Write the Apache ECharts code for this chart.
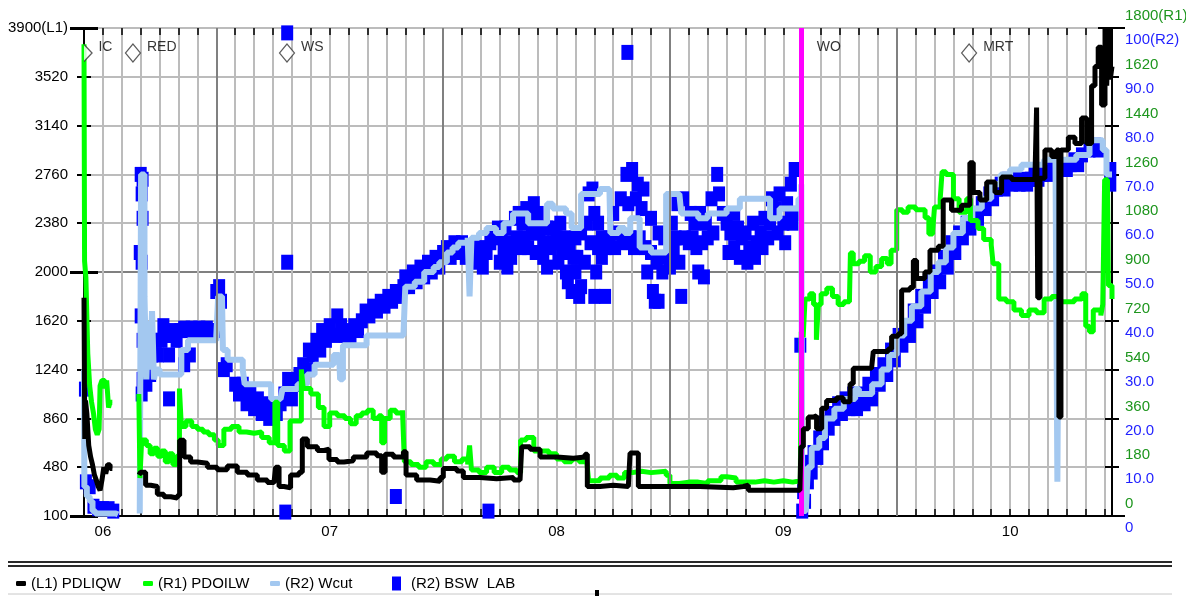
<!DOCTYPE html>
<html>
<head>
<meta charset="utf-8">
<title>PDLIQW / PDOILW / Wcut</title>
<script src="https://cdn.jsdelivr.net/npm/echarts@6/dist/echarts.min.js"></script>
<style>
html, body { margin: 0; padding: 0; background: #fff; }
#main { width: 1186px; height: 596px; }
</style>
</head>
<body>
<div id="main"></div>
<script>
// x = months counted from Jan 2006 (5 = Jun 2006)
var xMin = 5, xMax = 59.39;
var yearLabels = ['06', '07', '08', '09', '10'];
var yearLabelMonths = [6, 18, 30, 42, 54];
var yearStartMonths = [12, 24, 36, 48];
var woMonth = 42.97;

var eventNames = ['IC', 'RED', 'WS', 'WO', 'MRT'];
var eventMonths = [5.0, 7.59, 15.74, 42.97, 51.83];

// (L1) PDLIQW
var pdliqw = [
    [5.0, 1800], [5.04, 700], [5.08, 1000], [5.15, 900], [5.25, 650], [5.35, 560], [5.45, 500],
    [5.55, 420], [5.65, 380], [5.75, 330], [5.85, 300], [5.95, 380], [6.05, 480], [6.15, 430],
    [6.25, 500], [6.38, 470], [6.5, null],
    [7.91, 420], [7.99, 440], [8.26, 340], [8.53, 330], [8.88, 270], [9.23, 250], [9.59, 240],
    [9.94, 260], [10.06, 690], [10.29, 560], [10.64, 520], [11.0, 510], [11.53, 480], [12.05, 460],
    [12.58, 490], [13.11, 440], [13.64, 420], [14.17, 380], [14.7, 360], [15.05, 350], [15.14, 480],
    [15.32, 330], [15.58, 320], [15.93, 420], [16.38, 440], [16.55, 700], [16.82, 640], [17.35, 610],
    [17.7, 620], [17.96, 540], [18.4, 520], [18.76, 530], [19.25, 560], [19.96, 590], [20.49, 570],
    [20.75, 440], [20.93, 580], [21.37, 560], [21.9, 600], [22.04, 420], [22.6, 380], [23.31, 370],
    [23.84, 400], [24.01, 470], [24.72, 450], [25.07, 400], [25.95, 390], [26.83, 400], [27.72, 380],
    [28.07, 370], [28.16, 640], [28.6, 620], [29.13, 560], [30.01, 550], [30.89, 560], [31.51, 580],
    [31.63, 330], [32.3, 340], [33.0, 330], [33.8, 340], [33.89, 590], [34.33, 330], [35.83, 330],
    [37.59, 320], [39.35, 330], [39.88, 340], [40.15, 300], [41.47, 300], [42.88, 300], [42.93, 640],
    [43.06, 780], [43.32, 870], [43.59, 880], [43.76, 780], [44.03, 940], [44.29, 1000], [44.82, 1020],
    [45.17, 990], [45.53, 1130], [45.7, 1250], [46.67, 1250], [46.76, 1380], [47.55, 1400],
    [47.73, 1500], [48.08, 1520], [48.26, 1860], [48.7, 1880], [48.88, 2090], [49.05, 1950],
    [49.49, 2000], [49.76, 2170], [50.2, 2200], [50.46, 2560], [50.9, 2480], [51.43, 2520],
    [51.87, 2850], [52.05, 2620], [52.4, 2560], [52.76, 2700], [53.2, 2620], [53.55, 2740],
    [54.08, 2720], [54.61, 2720], [55.31, 2730], [55.4, 3280], [55.46, 1800], [55.58, 2730],
    [55.84, 2950], [56.2, 2900], [56.46, 2950], [56.58, 870], [56.69, 2950], [57.08, 3050],
    [57.43, 3000], [57.78, 3200], [58.05, 3000], [58.31, 3450], [58.49, 3600], [58.66, 3750],
    [58.84, 3300], [59.02, 3900], [59.11, 3450], [59.2, 3900], [59.3, 3500], [59.39, 3600]
];

// (R1) PDOILW
var pdoilw = [
    [5.0, 1740], [5.03, 940], [5.1, 880], [5.2, 600], [5.3, 480], [5.4, 420], [5.5, 380], [5.6, 320],
    [5.7, 300], [5.8, 320], [5.85, 480], [5.95, 500], [6.1, 470], [6.2, 500], [6.3, 400], [6.38, 420],
    [6.5, null],
    [7.9, 450], [7.96, 140], [8.05, 280], [8.3, 260], [8.5, 230], [8.7, 250], [8.9, 220], [9.1, 240],
    [9.3, 200], [9.5, 230], [9.7, 190], [9.9, 220], [10.05, 470], [10.15, 330], [10.4, 350],
    [10.7, 330], [11.0, 320], [11.3, 310], [11.6, 300], [11.9, 280], [12.1, 260], [12.4, 320],
    [12.8, 330], [13.2, 310], [13.6, 305], [14.0, 310], [14.4, 290], [14.8, 270], [15.1, 420],
    [15.25, 260], [15.6, 240], [15.9, 350], [16.3, 350], [16.5, 540], [16.6, 470], [17.0, 450],
    [17.4, 400], [17.7, 330], [18.0, 380], [18.4, 370], [18.8, 360], [19.1, 340], [19.4, 370],
    [19.7, 380], [20.0, 390], [20.3, 360], [20.6, 370], [20.75, 270], [20.9, 360], [21.2, 390],
    [21.5, 380], [21.85, 390], [21.95, 200], [22.3, 190], [22.7, 180], [23.1, 200], [23.5, 190],
    [23.9, 210], [24.2, 220], [24.6, 200], [25.0, 210], [25.3, 190], [25.4, 260], [25.5, 170],
    [25.9, 160], [26.3, 180], [26.7, 160], [27.1, 180], [27.5, 170], [27.9, 160], [28.1, 280],
    [28.4, 290], [28.8, 240], [29.2, 240], [29.6, 230], [30.0, 210], [30.4, 200], [30.8, 210],
    [31.2, 200], [31.6, 200], [31.7, 130], [32.3, 140], [32.8, 150], [33.2, 140], [33.6, 160],
    [34.0, 165], [34.5, 160], [35.0, 165], [35.8, 150], [36.0, 120], [36.5, 125], [37.0, 125],
    [37.5, 120], [38.0, 130], [38.5, 130], [38.7, 145], [39.0, 140], [39.5, 125], [40.0, 125],
    [40.5, 130], [41.0, 125], [41.5, 130], [42.0, 125], [42.5, 130], [42.9, 125], [42.95, 680],
    [43.05, 660], [43.15, 800], [43.4, 820], [43.6, 780], [43.75, 650], [43.85, 780], [44.0, 820],
    [44.3, 840], [44.6, 810], [44.9, 780], [45.2, 790], [45.5, 800], [45.55, 970], [45.7, 930],
    [46.0, 940], [46.3, 960], [46.6, 900], [46.9, 920], [47.2, 950], [47.5, 930], [47.7, 980],
    [48.0, 1130], [48.3, 1120], [48.6, 1140], [49.0, 1130], [49.5, 1100], [49.7, 1040], [49.9, 1050],
    [50.0, 1140], [50.3, 1170], [50.4, 1270], [50.6, 1260], [51.0, 1170], [51.3, 1120], [51.7, 1170],
    [51.9, 1090], [52.3, 1060], [52.6, 1020], [53.0, 1000], [53.1, 930], [53.4, 800], [53.8, 790],
    [54.2, 760], [54.6, 740], [55.0, 760], [55.4, 750], [55.8, 800], [56.2, 810], [56.6, 790],
    [57.0, 790], [57.4, 800], [57.8, 820], [58.0, 700], [58.2, 680], [58.4, 760], [58.8, 740],
    [58.9, 780], [59.0, 1240], [59.15, 1240], [59.2, 850], [59.39, 800]
];

// (R2) Wcut
var wcut = [
    [5.0, 30], [5.02, 6], [5.15, 4], [5.3, 3], [5.45, 1], [5.6, 0.5], [6.7, 0.3], [6.8, null],
    [7.95, 0.5], [8.02, 70], [8.1, 70], [8.2, 45], [8.3, 28], [8.4, 40], [8.5, 30], [8.6, 42],
    [8.7, 28], [8.8, 30], [9.0, 29], [9.5, 29], [10.0, 29], [10.15, 34], [10.5, 36], [11.0, 36],
    [11.5, 36], [12.0, 37], [12.1, 45], [12.3, 45], [12.35, 34], [12.6, 32], [13.0, 32], [13.4, 30],
    [13.5, 27], [14.0, 27], [14.5, 27], [14.9, 24], [15.4, 24], [15.5, 26], [16.0, 26], [16.3, 27],
    [16.8, 29], [17.2, 31], [17.8, 31], [18.2, 33], [18.5, 33], [18.55, 28], [18.7, 35], [19.0, 35],
    [19.5, 35], [19.95, 37], [20.5, 37], [21.0, 37], [21.5, 37], [21.9, 37], [22.0, 47], [22.5, 48],
    [23.0, 50], [23.5, 51], [23.8, 52], [24.2, 54], [24.5, 55], [24.8, 56], [25.3, 57], [25.4, 45],
    [25.5, 57], [25.9, 58], [26.3, 59], [26.8, 58], [27.2, 60], [27.7, 62], [28.1, 62], [28.5, 60],
    [29.0, 60], [29.5, 64], [29.8, 63], [30.1, 63], [30.5, 62], [30.8, 59], [31.0, 59], [31.3, 66],
    [31.7, 66], [32.3, 67], [32.8, 67], [32.85, 58], [33.3, 59], [33.6, 58], [33.9, 61], [34.4, 55],
    [35.0, 54], [35.5, 54], [35.8, 66], [36.5, 66], [36.6, 62], [37.5, 61], [38.0, 62], [38.5, 62],
    [39.0, 63], [39.7, 65], [40.5, 65], [41.3, 61], [41.8, 63], [42.5, 63], [42.8, 65], [42.95, 68],
    [43.0, 1], [43.2, 2], [43.3, 10], [43.5, 14], [43.9, 16], [44.2, 20], [44.7, 22], [45.2, 24],
    [45.8, 26], [46.0, 25], [46.7, 27], [47.2, 30], [47.6, 33], [48.0, 37], [48.4, 40], [48.8, 43],
    [49.3, 46], [49.8, 50], [50.2, 52], [50.6, 55], [51.0, 58], [51.5, 61], [52.0, 63], [52.5, 65],
    [53.0, 68], [53.5, 70], [54.0, 71], [54.6, 72], [55.3, 72], [55.8, 73], [56.4, 73], [56.5, 7],
    [56.6, 73], [57.0, 73], [57.5, 74], [58.0, 74], [58.2, 77], [58.6, 77], [58.9, 75], [59.1, 70],
    [59.39, 70]
];

// (R2) BSW  LAB samples
var bswLab = [
    [5.05, 26], [5.1, 7], [5.3, 6], [5.5, 2], [5.75, 1.5], [6.0, 1.5], [6.3, 1.5], [6.55, 1],
    [8.0, 70], [8.1, 69], [8.05, 66], [8.1, 61], [7.95, 54], [8.05, 52], [8.0, 41], [8.1, 36],
    [8.1, 28], [8.05, 25], [8.3, 27], [8.5, 29], [8.6, 33], [8.8, 36], [8.9, 33], [9.1, 36],
    [9.2, 39], [9.4, 37], [9.5, 24], [9.5, 33], [9.6, 37], [9.8, 38], [9.9, 36], [10.1, 38],
    [10.3, 31], [10.3, 38.5], [10.5, 38], [10.6, 33], [10.7, 38.5], [10.9, 38], [11.1, 38.5],
    [11.3, 38], [11.5, 38.5], [11.7, 38], [11.9, 38], [12.0, 46], [12.15, 47], [12.25, 44],
    [12.4, 30], [12.55, 31], [13.0, 27], [13.2, 25], [13.4, 27], [13.6, 23], [13.8, 25], [14.0, 22],
    [14.2, 24], [14.4, 21], [14.6, 23], [14.8, 20], [15.0, 22], [15.2, 21], [15.4, 23], [15.6, 25],
    [15.75, 52], [15.65, 0.8], [15.75, 99], [15.8, 28], [16.0, 24], [16.2, 27], [16.4, 29],
    [16.6, 31], [16.8, 30], [16.9, 34], [17.1, 33], [17.3, 36], [17.5, 34], [17.6, 38], [17.8, 36],
    [18.0, 39], [18.2, 37], [18.4, 41], [18.6, 39], [18.8, 37], [18.9, 38], [19.1, 37], [19.3, 39],
    [19.5, 38], [19.7, 40], [19.9, 42], [20.1, 41], [20.3, 43], [20.5, 42], [20.7, 44], [20.9, 43],
    [21.1, 45], [21.3, 44], [21.5, 46], [21.5, 4], [21.7, 45], [21.9, 47], [22.0, 49], [22.2, 47],
    [22.4, 50], [22.6, 48], [22.8, 51], [23.0, 49], [23.2, 52], [23.4, 50], [23.6, 53], [23.8, 51],
    [24.0, 54], [24.2, 55], [24.4, 53], [24.6, 56], [24.8, 54], [25.0, 56], [25.2, 53], [25.5, 54],
    [25.7, 52], [25.9, 55], [26.1, 51], [26.3, 54], [26.4, 1], [26.5, 56], [26.7, 58], [26.9, 59],
    [27.0, 52], [27.1, 57], [27.2, 54], [27.3, 59], [27.4, 51], [27.5, 56], [27.6, 53], [27.8, 61],
    [27.9, 57], [28.0, 62], [28.1, 55], [28.2, 60], [28.3, 57], [28.4, 63], [28.5, 55], [28.6, 61],
    [28.7, 58], [28.8, 64], [28.9, 54], [29.0, 62], [29.1, 58], [29.3, 56], [29.3, 53], [29.5, 51],
    [29.5, 59], [29.7, 55], [29.8, 56], [29.9, 59], [30.0, 57], [30.1, 52], [30.2, 60], [30.3, 54],
    [30.4, 57], [30.5, 50], [30.6, 48], [30.7, 55], [30.8, 46], [30.9, 53], [31.0, 50], [31.0, 57],
    [31.1, 53], [31.2, 45], [31.3, 47], [31.3, 58], [31.5, 52], [31.6, 60], [31.7, 66], [31.8, 56],
    [31.9, 67], [32.0, 45], [32.0, 62], [32.1, 50], [32.2, 55], [32.2, 60], [32.4, 53], [32.4, 57],
    [32.57, 45], [32.6, 55], [32.8, 57], [33.0, 62], [33.1, 55], [33.3, 58], [33.4, 65], [33.5, 56],
    [33.7, 70], [33.75, 95], [33.8, 64], [33.9, 57], [34.0, 71], [34.1, 55], [34.2, 65], [34.3, 68],
    [34.4, 57], [34.5, 63], [34.6, 67], [34.7, 55], [34.8, 50], [35.0, 54], [35.0, 61], [35.1, 46],
    [35.2, 44], [35.3, 52], [35.4, 44], [35.4, 58], [35.6, 50], [35.7, 57], [35.8, 53], [36.0, 51],
    [36.1, 60], [36.2, 54], [36.3, 57], [36.4, 64], [36.5, 52], [36.6, 45], [36.7, 65], [36.8, 57],
    [37.0, 56], [37.1, 62], [37.2, 57], [37.3, 60], [37.4, 55], [37.5, 50], [37.6, 62], [37.7, 56],
    [37.8, 49], [37.9, 60], [38.0, 57], [38.2, 65], [38.3, 58], [38.5, 70], [38.6, 66], [38.8, 62],
    [39.0, 60], [39.1, 54], [39.2, 58], [39.4, 62], [39.4, 55], [39.6, 59], [39.7, 53], [39.8, 57],
    [40.0, 58], [40.1, 52], [40.2, 55], [40.4, 60], [40.5, 53], [40.6, 56], [40.8, 58], [40.9, 55],
    [41.0, 61], [41.2, 57], [41.3, 60], [41.4, 65], [41.6, 63], [41.7, 58], [41.8, 66], [42.0, 60],
    [42.1, 56], [42.2, 64], [42.4, 68], [42.4, 62], [42.5, 60], [42.6, 71], [42.75, 62], [42.9, 35],
    [43.0, 1], [43.05, 5], [43.15, 3], [43.3, 7], [43.4, 11], [43.5, 9], [43.6, 13], [43.8, 12],
    [43.9, 16], [44.1, 15], [44.2, 19], [44.4, 18], [44.5, 21], [44.7, 20], [44.9, 23], [45.1, 21],
    [45.3, 24], [45.5, 22], [45.7, 25], [45.9, 22], [46.1, 25], [46.3, 23], [46.5, 27], [46.7, 24],
    [46.9, 29], [47.1, 27], [47.3, 31], [47.5, 29], [47.7, 34], [47.9, 32], [48.1, 37], [48.3, 35],
    [48.5, 39], [48.7, 37], [48.9, 42], [49.1, 40], [49.3, 45], [49.5, 43], [49.7, 48], [49.9, 46],
    [50.1, 50], [50.3, 48], [50.5, 53], [50.7, 51], [50.9, 56], [51.1, 54], [51.3, 58], [51.5, 57],
    [51.7, 60], [51.9, 59], [52.1, 62], [52.3, 61], [52.5, 64], [52.7, 63], [52.9, 66], [53.1, 65],
    [53.3, 67], [53.5, 68], [53.7, 67], [53.9, 69], [54.1, 68], [54.3, 69], [54.5, 68], [54.7, 69],
    [54.9, 68], [55.1, 69], [55.3, 70], [55.5, 69], [55.7, 70], [55.9, 71], [56.1, 70], [56.3, 71],
    [56.6, 71], [56.8, 72], [57.0, 71], [57.2, 72], [57.4, 73], [57.6, 72], [57.8, 74], [58.2, 75],
    [58.5, 76], [58.7, 75], [59.3, 71], [59.3, 68]
];

var FONT = '"Liberation Sans", Arial, sans-serif';
var GRID_GRAY = '#bcbcbc';
var GREEN_TXT = '#1e961e';
var BLUE_TXT = '#1f1fff';

var chart = echarts.init(document.getElementById('main'));

function yearLabel(v) {
    var i = yearLabelMonths.indexOf(Math.round(v * 100) / 100);
    return i >= 0 ? yearLabels[i] : '';
}

function tickAxis(side, min, max, interval, inside, len, width) {
    return {
        type: 'value', position: side, min: min, max: max, interval: interval,
        axisLine: { show: false, onZero: false },
        axisTick: { show: true, inside: inside, length: len, lineStyle: { color: '#000', width: width } },
        axisLabel: { show: false },
        splitLine: { show: false }
    };
}

// event markers along the top
var eventLevel = 3705;
var eventData = eventNames.map(function (name, i) {
    var item = { name: name, value: [eventMonths[i], eventLevel] };
    if (name === 'IC') {
        item.symbol = 'path://M0,0L8,8.5L0,17';
        item.symbolSize = [8, 17];
        item.symbolOffset = [4, 0];
    } else if (name === 'WO') {
        item.symbol = 'circle';
        item.symbolSize = 1;
        item.itemStyle = { color: 'rgba(0,0,0,0)', borderColor: 'rgba(0,0,0,0)' };
        item.label = { distance: 14 };
    }
    return item;
});

var markLines = yearStartMonths.map(function (m) {
    return { xAxis: m, lineStyle: { color: '#808080', width: 2, type: 'solid' } };
});
markLines.push({ xAxis: woMonth, lineStyle: { color: '#ff00ff', width: 5, type: 'solid' } });

var yLeft = tickAxis('left', 100, 3900, 380, false, 7, 2);
yLeft.axisLine = { show: true, onZero: false, lineStyle: { color: '#000', width: 2 } };
yLeft.axisLabel = {
    show: true, color: '#000', fontSize: 15, fontFamily: FONT, margin: 16,
    formatter: function (v) { return v === 3900 ? '3900(L1)' : String(v); }
};
yLeft.splitLine = { show: true, lineStyle: { color: GRID_GRAY, width: 2 } };

var yLeftMajor = tickAxis('left', 100, 3900, 1900, false, 14, 3);
yLeftMajor.splitLine = { show: true, lineStyle: { color: ['rgba(0,0,0,0)', '#808080', 'rgba(0,0,0,0)'], width: 2 } };

var yR1 = tickAxis('right', 0, 1800, 180, false, 7, 2);
yR1.axisLine = { show: true, onZero: false, lineStyle: { color: '#000', width: 2 } };
yR1.axisLabel = {
    show: true, color: GREEN_TXT, fontSize: 15, fontFamily: FONT, margin: 13,
    verticalAlign: 'bottom', lineHeight: 24,
    formatter: function (v) { return v === 1800 ? '1800(R1)' : String(v); }
};

var yR2 = tickAxis('right', 0, 100, 10, false, 0, 0);
yR2.axisTick = { show: false };
yR2.axisLabel = {
    show: true, color: BLUE_TXT, fontSize: 15, fontFamily: FONT, margin: 13,
    verticalAlign: 'top', lineHeight: 24,
    formatter: function (v) { return v === 100 ? '100(R2)' : (v === 0 ? '0' : v.toFixed(1)); }
};

var option = {
    animation: false,
    backgroundColor: '#fff',
    textStyle: { fontFamily: FONT },
    grid: { left: 84, right: 74, top: 28, bottom: 80, containLabel: false, outerBoundsMode: 'none' },
    xAxis: [
        {
            type: 'value', position: 'bottom', min: xMin, max: xMax, interval: 1,
            axisLine: { show: true, onZero: false, lineStyle: { color: '#000', width: 2 } },
            axisTick: { show: true, inside: true, length: 7, lineStyle: { color: '#000', width: 1.5 } },
            axisLabel: { show: true, color: '#000', fontSize: 15, fontFamily: FONT, margin: 8, formatter: yearLabel },
            splitLine: { show: true, lineStyle: { color: GRID_GRAY, width: 2 } }
        },
        {
            type: 'value', position: 'top', min: xMin, max: xMax, interval: 1,
            axisLine: { show: false, onZero: false },
            axisTick: { show: true, inside: true, length: 7, lineStyle: { color: '#000', width: 1.5 } },
            axisLabel: { show: false },
            splitLine: { show: false }
        }
    ],
    yAxis: [
        yLeft,                                                  // 0  L1
        tickAxis('left', 100, 3900, 380, true, 7, 2),           // 1
        yLeftMajor,                                             // 2
        tickAxis('left', 100, 3900, 1900, true, 14, 3),         // 3
        yR1,                                                    // 4  R1
        tickAxis('right', 0, 1800, 180, true, 7, 2),            // 5
        yR2,                                                    // 6  R2
        tickAxis('right', 0, 1800, 1800, false, 13, 2),         // 7
        tickAxis('right', 0, 1800, 1800, true, 14, 2)           // 8
    ],
    legend: [
        {
            data: ['(L1) PDLIQW'], left: 16, top: 576, padding: 0,
            icon: 'roundRect', itemWidth: 10, itemHeight: 5,
            textStyle: { fontSize: 15, color: '#000', fontFamily: FONT }
        },
        {
            data: ['(R1) PDOILW'], left: 143, top: 576, padding: 0,
            icon: 'roundRect', itemWidth: 10, itemHeight: 5,
            textStyle: { fontSize: 15, color: '#000', fontFamily: FONT }
        },
        {
            data: ['(R2) Wcut'], left: 270, top: 576, padding: 0,
            icon: 'roundRect', itemWidth: 10, itemHeight: 5,
            textStyle: { fontSize: 15, color: '#000', fontFamily: FONT }
        },
        {
            data: ['(R2) BSW  LAB'], left: 392, top: 576, padding: 0,
            icon: 'rect', itemWidth: 9, itemHeight: 14,
            textStyle: { fontSize: 15, color: '#000', fontFamily: FONT, padding: [0, 0, 0, 5] }
        }
    ],
    graphic: [
        { type: 'line', shape: { x1: 8, y1: 562, x2: 1172, y2: 562 }, style: { stroke: '#2a2a2a', lineWidth: 2 } },
        { type: 'line', shape: { x1: 8, y1: 566, x2: 1172, y2: 566 }, style: { stroke: '#2a2a2a', lineWidth: 2 } },
        { type: 'line', shape: { x1: 8, y1: 594, x2: 1172, y2: 594 }, style: { stroke: '#c8c8c8', lineWidth: 1 } },
        { type: 'rect', shape: { x: 595, y: 590, width: 4, height: 6 }, style: { fill: '#000' } }
    ],
    series: [
        {
            name: 'lines', type: 'line', xAxisIndex: 0, yAxisIndex: 0, data: [], z: 1, silent: true,
            markLine: { silent: true, symbol: ['none', 'none'], label: { show: false }, animation: false, data: markLines }
        },
        {
            name: '(R2) BSW  LAB', type: 'scatter', xAxisIndex: 0, yAxisIndex: 6, z: 2,
            symbol: 'rect', symbolSize: [12, 15],
            itemStyle: { color: '#0000ff', opacity: 1 },
            data: bswLab
        },
        {
            name: '(R2) Wcut', type: 'line', xAxisIndex: 0, yAxisIndex: 6, z: 3,
            step: 'end', showSymbol: false, connectNulls: false,
            lineStyle: { color: '#a3c8f0', width: 6 }, itemStyle: { color: '#a3c8f0' },
            data: wcut
        },
        {
            name: '(R1) PDOILW', type: 'line', xAxisIndex: 0, yAxisIndex: 4, z: 4,
            step: 'end', showSymbol: false, connectNulls: false,
            lineStyle: { color: '#00ff00', width: 5 }, itemStyle: { color: '#00ff00' },
            data: pdoilw
        },
        {
            name: '(L1) PDLIQW', type: 'line', xAxisIndex: 0, yAxisIndex: 0, z: 5,
            step: 'end', showSymbol: false, connectNulls: false,
            lineStyle: { color: '#000', width: 5 }, itemStyle: { color: '#000' },
            data: pdliqw
        },
        {
            name: 'events', type: 'scatter', xAxisIndex: 0, yAxisIndex: 0, z: 6,
            symbol: 'diamond', symbolSize: [15, 18],
            itemStyle: { color: '#fff', borderColor: '#333', borderWidth: 1.2 },
            label: {
                show: true, position: 'right', distance: 6, offset: [0, -6],
                color: '#000', fontSize: 14, fontFamily: FONT,
                formatter: function (p) { return p.name; }
            },
            data: eventData
        }
    ]
};

chart.setOption(option);
</script>
</body>
</html>
